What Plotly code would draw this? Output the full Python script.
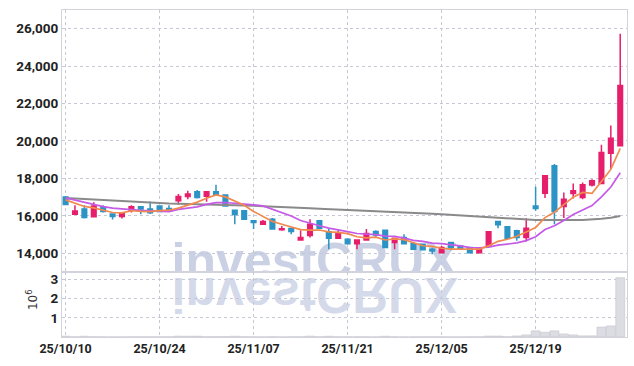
import plotly.graph_objects as go
from plotly.subplots import make_subplots

dates = [
    "2025-10-10", "2025-10-13", "2025-10-14", "2025-10-15", "2025-10-16", "2025-10-17",
    "2025-10-20", "2025-10-21", "2025-10-22", "2025-10-23", "2025-10-24",
    "2025-10-27", "2025-10-28", "2025-10-29", "2025-10-30", "2025-10-31",
    "2025-11-03", "2025-11-04", "2025-11-05", "2025-11-06", "2025-11-07",
    "2025-11-10", "2025-11-11", "2025-11-12", "2025-11-13", "2025-11-14",
    "2025-11-17", "2025-11-18", "2025-11-19", "2025-11-20", "2025-11-21",
    "2025-11-24", "2025-11-25", "2025-11-26", "2025-11-27", "2025-11-28",
    "2025-12-01", "2025-12-02", "2025-12-03", "2025-12-04", "2025-12-05",
    "2025-12-08", "2025-12-09", "2025-12-10", "2025-12-11", "2025-12-12",
    "2025-12-15", "2025-12-16", "2025-12-17", "2025-12-18", "2025-12-19",
    "2025-12-22", "2025-12-23", "2025-12-24", "2025-12-26", "2025-12-29",
    "2025-12-30", "2026-01-02", "2026-01-05", "2026-01-06",
]

opens = [17000, 16080, 16360, 15950, 16440, 16100, 15960, 16300, 16480, 16370,
         16520, 16390, 16800, 17030, 17280, 17050, 17280, 17110, 16300, 16270,
         15730, 15550, 15820, 15260, 15320, 14700, 14950, 15730, 15150, 14800,
         14750, 14510, 14700, 15160, 15230, 14570, 14840, 14510, 14480, 14210,
         14030, 14570, 14390, 14300, 14030, 14400, 15690, 15410, 15200, 14840,
         16530, 17210, 18680, 16500, 17190, 16980, 17640, 17730, 19340, 19750]
highs = [17060, 16560, 16570, 16730, 16570, 16110, 16170, 16570, 16500, 16760,
         16560, 16570, 17160, 17340, 17380, 17330, 17660, 17130, 16330, 16290,
         15740, 15770, 15880, 15460, 15370, 15230, 15820, 15770, 15290, 15230,
         14800, 14720, 15290, 15230, 15250, 14830, 15020, 14560, 14500, 14300,
         14390, 14580, 14400, 14310, 14240, 15160, 15720, 15420, 15250, 15870,
         17550, 18160, 18770, 17250, 17730, 17780, 17960, 19800, 20820, 25730]
lows = [16560, 16060, 15860, 15940, 16180, 15800, 15860, 16170, 16080, 16090,
        16200, 16230, 16590, 16890, 16930, 16750, 17100, 16500, 15550, 15820,
        15290, 15530, 15280, 15200, 15020, 14690, 14840, 15300, 14210, 14780,
        14480, 14210, 14680, 14870, 14290, 14210, 14500, 14180, 14170, 13950,
        14020, 14160, 14240, 14020, 14020, 14390, 15340, 14800, 14660, 14620,
        16270, 16950, 15550, 15880, 16930, 16890, 17560, 17700, 18500, 19700]
closes = [16600, 16260, 15910, 16520, 16230, 15960, 16160, 16480, 16370, 16160,
          16230, 16250, 17030, 17160, 16980, 17280, 17120, 16520, 16070, 15820,
          15640, 15690, 15290, 15310, 15160, 14840, 15550, 15340, 14800, 15050,
          14510, 14700, 15050, 14980, 14300, 14800, 14510, 14210, 14180, 14120,
          14300, 14300, 14250, 14030, 14230, 15150, 15520, 14800, 14840, 15340,
          16390, 18140, 16230, 16890, 17340, 17660, 17870, 19390, 20140, 22960]
volumes = [45000, 12000, 40000, 15000, 10000, 8000, 9000, 10000, 12000, 15000,
           10000, 12000, 45000, 40000, 42000, 15000, 20000, 18000, 40000, 15000,
           10000, 8000, 12000, 8000, 10000, 12000, 45000, 15000, 40000, 12000,
           10000, 10000, 12000, 8000, 40000, 10000, 8000, 9000, 10000, 12000,
           10000, 9000, 8000, 10000, 12000, 50000, 50000, 15000, 55000, 110000,
           320000, 250000, 320000, 160000, 110000, 60000, 60000, 520000, 580000, 3100000]

ma_short = [16850, 16680, 16500, 16420, 16304, 16176, 16156, 16270, 16240, 16226,
            16280, 16298, 16408, 16566, 16730, 16940, 17114, 17012, 16794, 16562,
            16234, 15948, 15702, 15550, 15418, 15258, 15230, 15240, 15138, 15116,
            15050, 14880, 14822, 14858, 14708, 14766, 14728, 14560, 14400, 14364,
            14264, 14222, 14230, 14200, 14222, 14392, 14636, 14746, 14908, 15130,
            15378, 15902, 16188, 16598, 16998, 17252, 17198, 17830, 18480, 19604]
ma_mid = [16960, 16840, 16720, 16600, 16490, 16410, 16360, 16320, 16290, 16265,
          16228, 16227, 16339, 16403, 16478, 16610, 16706, 16710, 16680, 16646,
          16587, 16531, 16357, 16172, 15990, 15746, 15589, 15471, 15344, 15267,
          15154, 15055, 15031, 14998, 14912, 14908, 14804, 14691, 14629, 14536,
          14515, 14475, 14395, 14300, 14293, 14328, 14429, 14488, 14554, 14676,
          14885, 15269, 15467, 15753, 16064, 16315, 16550, 17009, 17539, 18301]
ma_long = [16950, 16920, 16890, 16860, 16830, 16800, 16770, 16740, 16720, 16700,
           16680, 16660, 16650, 16640, 16630, 16620, 16610, 16600, 16580, 16560,
           16540, 16510, 16480, 16460, 16440, 16420, 16400, 16380, 16360, 16340,
           16320, 16300, 16280, 16260, 16240, 16220, 16200, 16170, 16140, 16110,
           16080, 16050, 16020, 15990, 15960, 15920, 15880, 15840, 15810, 15790,
           15780, 15770, 15760, 15760, 15770, 15780, 15800, 15840, 15900, 15990]

tick_dates = ["2025-10-10", "2025-10-24", "2025-11-07", "2025-11-21", "2025-12-05", "2025-12-19"]
tick_labels = ["25/10/10", "25/10/24", "25/11/07", "25/11/21", "25/12/05", "25/12/19"]
price_ticks = [14000, 16000, 18000, 20000, 22000, 24000, 26000]
vol_ticks = [1000000, 2000000, 3000000]
vol_tick_labels = ["1", "2", "3"]
watermark = "investCRUX"

UP = "#e61e6b"
DOWN = "#2c93c5"
GRID = "#c6c8d6"
FRAME = "#d2d3dc"
YFONT = dict(family="Roboto", size=13.5, color="#222222", weight="bold")
XFONT = dict(family="Roboto", size=12.5, color="#222222", weight="bold")

fig = make_subplots(rows=2, cols=1, shared_xaxes=True, vertical_spacing=0,
                    row_heights=[0.801, 0.199])

fig.add_trace(go.Candlestick(
    x=dates, open=opens, high=highs, low=lows, close=closes,
    increasing=dict(line=dict(color=UP, width=1.5), fillcolor=UP),
    decreasing=dict(line=dict(color=DOWN, width=1.5), fillcolor=DOWN),
    showlegend=False, hoverinfo="skip"), row=1, col=1)

fig.add_trace(go.Scatter(x=dates, y=ma_long, mode="lines",
                         line=dict(color="#8a8a8a", width=2), hoverinfo="skip"), row=1, col=1)
fig.add_trace(go.Scatter(x=dates, y=ma_mid, mode="lines",
                         line=dict(color="#c55ae6", width=1.7), hoverinfo="skip"), row=1, col=1)
fig.add_trace(go.Scatter(x=dates, y=ma_short, mode="lines",
                         line=dict(color="#f08a4e", width=1.7), hoverinfo="skip"), row=1, col=1)

fig.add_trace(go.Bar(x=dates, y=volumes,
                     marker=dict(color="#dcdce3", line=dict(color="#c6c6cf", width=0.6)),
                     hoverinfo="skip"), row=2, col=1)

# watermark (below traces) and its mirrored reflection
wm_font = dict(family="Liberation Sans, Arial", size=50, color="rgba(160,172,208,0.55)", weight="bold")
fig.add_shape(type="rect", xref="x", yref="y", x0=16.5, x1=36.5, y0=13350, y1=14350,
              line=dict(width=0), fillcolor="rgba(0,0,0,0)", layer="below",
              label=dict(text=watermark, font=wm_font, textposition="middle center"))
wm_font2 = dict(wm_font, color="rgba(160,172,208,0.45)")
fig.add_shape(type="rect", xref="x2", yref="y2", x0=16.5, x1=36.5, y0=2200000, y1=2700000,
              line=dict(width=0), fillcolor="rgba(0,0,0,0)", layer="below",
              label=dict(text=watermark, font=wm_font2, textposition="middle center"))

fig.add_annotation(text="10<sup>6</sup>", xref="paper", yref="paper", x=-0.053, y=0.113,
                   xanchor="center", yanchor="middle", textangle=-90, showarrow=False,
                   font=dict(family="DejaVu Sans", size=12, color="#333333"))

common_x = dict(type="category", range=[-0.38, 59.72], tickmode="array",
                tickvals=tick_dates, showgrid=True, gridcolor=GRID, griddash="dot",
                gridwidth=1, showline=True, linecolor=FRAME, mirror=True, ticks="",
                zeroline=False, automargin=False)
fig.update_xaxes(**common_x)
fig.update_xaxes(showticklabels=False, rangeslider_visible=False, row=1, col=1)
fig.update_xaxes(ticktext=tick_labels, showticklabels=True, tickfont=XFONT, row=2, col=1)

fig.update_yaxes(range=[13000, 27000], tickmode="array", tickvals=price_ticks,
                 tickformat=",d", tickfont=YFONT, showgrid=True, gridcolor=GRID,
                 griddash="dot", showline=True, linecolor=FRAME, mirror=True,
                 zeroline=False, ticks="", automargin=False, row=1, col=1)
fig.update_yaxes(range=[0, 3400000], tickmode="array", tickvals=vol_ticks,
                 ticktext=vol_tick_labels, tickfont=YFONT, showgrid=True,
                 gridcolor=GRID, griddash="dot", showline=True, linecolor=FRAME,
                 mirror=True, zeroline=False, ticks="", automargin=False, row=2, col=1)

fig.update_layout(width=634, height=366, margin=dict(l=62, r=7, t=10, b=29),
                  paper_bgcolor="white", plot_bgcolor="white", showlegend=False,
                  bargap=0.05)

post = """
document.body.style.margin = '0';
document.body.style.padding = '0';
var gd = document.getElementById('{plot_id}');
function flipWM(){
  var els = Array.prototype.filter.call(gd.querySelectorAll('text'), function(t){ return t.textContent === 'investCRUX'; });
  if (els.length < 2) return;
  els.sort(function(a,b){ return a.getBoundingClientRect().top - b.getBoundingClientRect().top; });
  var t = els[els.length-1];
  t.removeAttribute('transform');
  var b = t.getBBox();
  var cy = b.y + b.height/2;
  t.setAttribute('transform', 'translate(0,' + (2*cy) + ') scale(1,-1)');
}
flipWM();
gd.on('plotly_afterplot', flipWM);
"""

fig.write_html("out.html", post_script=post, config={"displayModeBar": False})
